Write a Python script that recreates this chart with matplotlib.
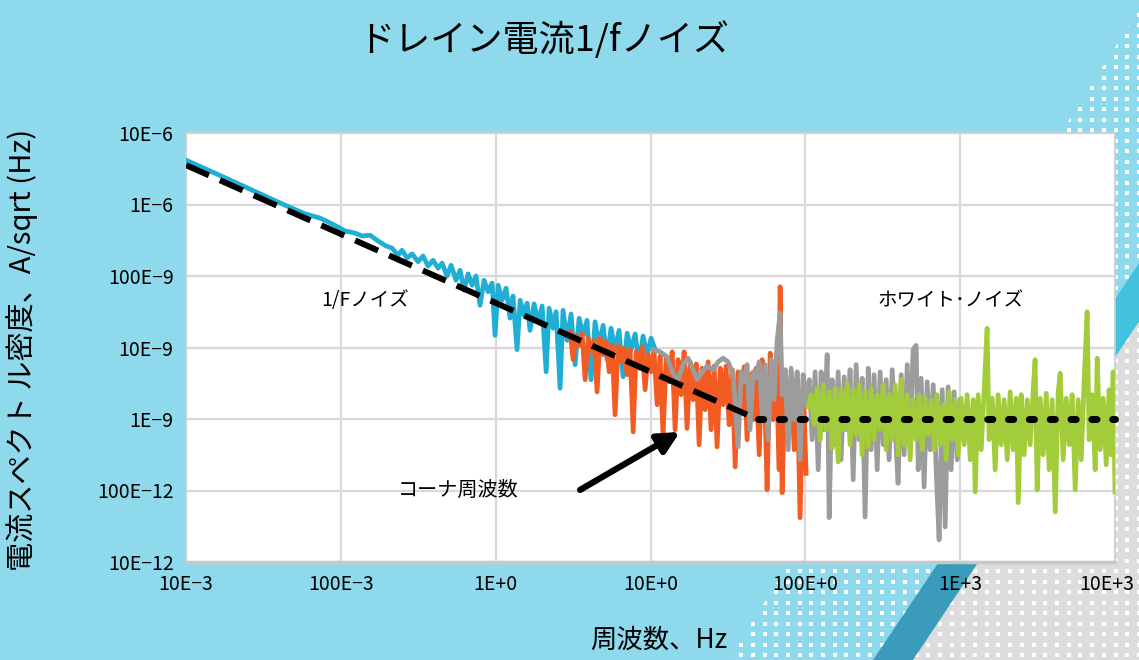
import numpy as np
import matplotlib
matplotlib.use('Agg')
import matplotlib.pyplot as plt
from matplotlib.patches import Polygon
from matplotlib.ticker import NullLocator
from matplotlib.transforms import ScaledTranslation

plt.rcParams['font.family'] = ['Noto Sans CJK JP', 'DejaVu Sans']

# ---- data (log10 of frequency in Hz, log10 of amplitude in nA/sqrt(Hz)) ----
blue_logf = [
    -2.000, -1.845, -1.683, -1.522, -1.360, -1.231, -1.134, -1.057, -0.973, -0.908,
    -0.863, -0.811, -0.760, -0.708, -0.669, -0.631, -0.605, -0.572, -0.540, -0.501,
    -0.469, -0.437, -0.404, -0.372, -0.346, -0.314, -0.288, -0.256, -0.230, -0.204,
    -0.178, -0.152, -0.127, -0.101, -0.075, -0.049, -0.023, -0.004, 0.016, 0.041,
    0.067, 0.093, 0.112, 0.138, 0.158, 0.183, 0.203, 0.222, 0.248, 0.274,
    0.300, 0.326, 0.345, 0.371, 0.390, 0.416, 0.435, 0.461, 0.487, 0.513,
    0.539, 0.565, 0.590, 0.616, 0.642, 0.668, 0.694, 0.720, 0.745, 0.771,
    0.797, 0.823, 0.849, 0.875, 0.901, 0.926, 0.952, 0.978, 1.004, 1.030]
blue_logy = [
    3.62, 3.47, 3.31, 3.15, 2.99, 2.87, 2.81, 2.73, 2.63, 2.60,
    2.56, 2.57, 2.49, 2.42, 2.39, 2.29, 2.36, 2.25, 2.31, 2.20,
    2.28, 2.14, 2.22, 2.11, 2.18, 2.00, 2.15, 1.94, 2.08, 1.80,
    2.03, 1.87, 2.00, 1.59, 1.94, 1.78, 1.90, 1.17, 1.87, 1.66,
    1.83, 1.41, 1.72, 0.97, 1.66, 1.45, 1.62, 1.24, 1.61, 1.36,
    1.58, 0.66, 1.55, 1.27, 1.50, 0.43, 1.52, 1.10, 1.47, 0.76,
    1.41, 1.17, 1.38, 0.55, 1.36, 1.03, 1.31, 0.83, 1.27, 0.97,
    1.24, 0.59, 1.20, 0.97, 1.19, 0.76, 1.16, 0.90, 1.13, 0.97]

orange_logf = [
    0.481, 0.500, 0.519, 0.539, 0.558, 0.578, 0.597, 0.616, 0.636, 0.655,
    0.674, 0.694, 0.713, 0.733, 0.752, 0.771, 0.791, 0.810, 0.829, 0.849,
    0.868, 0.888, 0.907, 0.926, 0.946, 0.965, 0.984, 1.004, 1.023, 1.043,
    1.062, 1.081, 1.101, 1.120, 1.140, 1.159, 1.178, 1.198, 1.217, 1.236,
    1.256, 1.275, 1.295, 1.314, 1.333, 1.353, 1.372, 1.391, 1.411, 1.430,
    1.450, 1.469, 1.488, 1.508, 1.527, 1.547, 1.566, 1.585, 1.605, 1.624,
    1.643, 1.663, 1.682, 1.702, 1.721, 1.740, 1.753, 1.773, 1.792, 1.811,
    1.831, 1.837, 1.850, 1.870, 1.889, 1.908, 1.928, 1.947, 1.966, 1.986,
    2.005]
orange_logy = [
    1.22, 0.83, 1.17, 1.03, 1.20, 0.55, 1.13, 0.94, 1.10, 0.38,
    1.13, 0.90, 1.08, 0.66, 1.03, 0.06, 1.02, 0.80, 0.99, 0.62,
    0.97, -0.18, 0.94, 0.71, 1.01, 0.41, 0.90, 0.66, 0.94, 0.20,
    0.88, -0.25, 0.85, 0.52, 0.94, -0.15, 0.83, 0.34, 0.94, -0.13,
    0.80, 0.27, 0.77, -0.36, 0.71, 0.13, 0.80, -0.15, 0.74, -0.39,
    0.71, 0.20, 0.74, -0.08, 0.69, -0.67, 0.66, 0.10, 0.73, -0.29,
    0.63, -0.01, 0.71, -0.50, 0.83, 0.13, -0.99, 0.92, -0.01, 0.83,
    -0.71, 1.85, -1.03, 0.62, -0.15, 0.59, -0.43, 0.57, -1.38, 0.55,
    -0.76]

gray_logf = [
    1.017, 1.062, 1.107, 1.140, 1.178, 1.211, 1.243, 1.275, 1.301, 1.333,
    1.366, 1.404, 1.437, 1.469, 1.501, 1.534, 1.566, 1.585, 1.605, 1.624,
    1.643, 1.663, 1.682, 1.702, 1.721, 1.740, 1.760, 1.779, 1.798, 1.818,
    1.837, 1.850, 1.870, 1.889, 1.908, 1.928, 1.947, 1.966, 1.986, 2.005,
    2.025, 2.044, 2.063, 2.083, 2.102, 2.121, 2.141, 2.154, 2.173, 2.193,
    2.212, 2.231, 2.251, 2.270, 2.289, 2.309, 2.328, 2.348, 2.367, 2.386,
    2.406, 2.425, 2.444, 2.464, 2.483, 2.503, 2.522, 2.541, 2.561, 2.580,
    2.599, 2.619, 2.638, 2.658, 2.677, 2.696, 2.716, 2.729, 2.748, 2.767,
    2.787, 2.806, 2.826, 2.845, 2.864, 2.884, 2.903, 2.922, 2.942, 2.961,
    2.981, 3.000]
gray_logy = [
    0.97, 0.94, 0.87, 0.66, 0.55, 0.76, 0.85, 0.69, 0.55, 0.66,
    0.74, 0.69, 0.80, 0.85, 0.80, 0.62, -0.39, 0.66, 0.52, 0.76,
    -0.15, 0.66, 0.57, 0.80, 0.06, 0.76, -0.29, 0.83, 0.27, 1.10,
    1.48, 0.34, 0.69, -0.43, 0.71, -0.01, 0.66, -0.57, 0.62, 0.20,
    0.55, -0.29, 0.66, -0.71, 0.66, -0.15, 0.90, -1.38, 0.55, -0.36,
    0.66, -0.57, 0.59, -0.15, 0.69, -0.85, 0.76, -0.29, 0.57, -1.37,
    0.71, -0.43, 0.62, -0.71, 0.66, -0.36, 0.55, -0.57, 0.69, -0.15,
    -0.90, 0.62, -0.50, 0.76, -0.29, 0.97, 1.03, -0.71, 0.57, -0.95,
    0.52, -0.43, 0.48, -0.71, -1.69, 0.41, -1.51, 0.45, -0.71, 0.38,
    -0.57, 0.27]

green_logf = [
    2.018, 2.037, 2.057, 2.076, 2.096, 2.115, 2.134, 2.154, 2.173, 2.193,
    2.212, 2.231, 2.251, 2.270, 2.289, 2.309, 2.328, 2.348, 2.367, 2.386,
    2.406, 2.425, 2.444, 2.464, 2.483, 2.503, 2.522, 2.541, 2.561, 2.580,
    2.599, 2.619, 2.638, 2.658, 2.677, 2.696, 2.716, 2.735, 2.755, 2.774,
    2.793, 2.813, 2.832, 2.851, 2.871, 2.890, 2.910, 2.929, 2.948, 2.968,
    2.987, 3.006, 3.026, 3.045, 3.065, 3.084, 3.097, 3.116, 3.136, 3.155,
    3.174, 3.187, 3.207, 3.226, 3.245, 3.265, 3.284, 3.304, 3.323, 3.342,
    3.362, 3.375, 3.394, 3.413, 3.433, 3.452, 3.472, 3.484, 3.497, 3.517,
    3.536, 3.556, 3.575, 3.594, 3.614, 3.633, 3.646, 3.665, 3.685, 3.704,
    3.723, 3.743, 3.762, 3.782, 3.801, 3.820, 3.833, 3.853, 3.872, 3.885,
    3.904, 3.924, 3.943, 3.962, 3.975, 3.988, 4.000]
green_logy = [
    0.17, 0.34, -0.08, 0.43, -0.29, 0.48, -0.15, 0.38, -0.41, 0.43,
    -0.60, 0.41, -0.15, 0.50, -0.36, 0.41, -0.22, 0.48, -0.50, 0.38,
    -0.39, 0.43, -0.29, 0.34, -0.15, 0.48, -0.43, 0.34, -0.29, 0.48,
    -0.50, 0.55, -0.36, 0.34, -0.57, 0.27, -0.29, 0.34, -0.43, 0.29,
    -0.22, 0.27, -0.43, 0.34, -0.36, 0.20, -0.57, 0.38, -0.29, 0.27,
    -0.50, 0.29, -0.36, 0.34, -0.57, 0.27, -1.02, 0.34, -0.43, 0.41,
    1.27, -0.29, 0.29, -0.71, 0.34, -0.36, 0.27, -0.57, 0.38, -0.43,
    0.29, -1.17, 0.34, -0.50, 0.27, -0.36, 0.41, 0.83, -0.99, 0.29,
    -0.50, 0.36, -0.71, 0.27, -1.30, 0.38, 0.64, -0.57, 0.29, -0.36,
    0.34, -0.99, 0.27, -0.57, 0.55, 1.50, -0.29, 0.34, -0.71, 0.85,
    -0.43, 0.29, -0.64, 0.41, -0.50, 0.66, -1.02]

# guide lines (Hz, A/sqrt(Hz))
onef_f = [0.01, 42.0]
onef_a = [3.55e-6, 1.15e-9]
white_f = [49.5, 1.0e4]
white_a = [1.0e-9, 1.0e-9]

# corner-frequency arrow (tail -> head)
arrow_tail = (3.51, 0.102e-9)
arrow_head = (15.5, 0.66e-9)

x_ticks = [1e-2, 1e-1, 1e0, 1e1, 1e2, 1e3, 1e4]
x_labels = ['10E\u22123', '100E\u22123', '1E+0', '10E+0', '100E+0', '1E+3', '10E+3']
y_ticks = [1e-5, 1e-6, 1e-7, 1e-8, 1e-9, 1e-10, 1e-11]
y_labels = ['10E\u22126', '1E\u22126', '100E\u22129', '10E\u22129', '1E\u22129',
            '100E\u221212', '10E\u221212']


def to_hz(v):
    return 10 ** np.array(v)


def to_amp(v):
    return 10 ** np.array(v) * 1e-9


W, H = 1139, 660
fig = plt.figure(figsize=(W / 100, H / 100), dpi=100)
fig.patch.set_facecolor('#8fd9ec')

# ---- decorative slide background ----
bg = fig.add_axes([0, 0, 1, 1], zorder=0)
bg.set_xlim(0, W)
bg.set_ylim(H, 0)
bg.axis('off')

band = Polygon([(1145, 0), (728, 660), (873, 660), (1315, 0)], closed=True,
               facecolor='none', edgecolor='none')
bg.add_patch(band)
grey_area = Polygon([(1354, 0), (913, 660), (1300, 660), (1300, 0)], closed=True,
                    facecolor='#dcdcdc', edgecolor='none')
bg.add_patch(grey_area)
bg.add_patch(Polygon([(1315, 0), (1014, 450), (1053, 450), (1354, 0)], closed=True,
                     facecolor='#44c1dd', edgecolor='none'))
bg.add_patch(Polygon([(1014, 450), (873, 660), (913, 660), (1053, 450)], closed=True,
                     facecolor='#3a9bba', edgecolor='none'))

gx, gy = np.meshgrid(np.arange(4, W, 11.7), np.arange(4, H, 10.5))
for patch in (band, grey_area):
    sc = bg.scatter(gx.ravel(), gy.ravel(), s=9, marker='s', color='white',
                    linewidths=0)
    sc.set_clip_path(patch)

# ---- chart ----
ax = fig.add_axes([186 / W, 1 - 562 / H, 929 / W, 429 / H], zorder=2)
ax.set_facecolor('white')
ax.set_xscale('log')
ax.set_yscale('log')

lw = 3.4
ax.plot(to_hz(blue_logf), to_amp(blue_logy), color='#20aed5', lw=lw,
        solid_joinstyle='round', zorder=3)
ax.plot(to_hz(orange_logf), to_amp(orange_logy), color='#f25c22', lw=lw,
        solid_joinstyle='round', zorder=4)
ax.plot(to_hz(gray_logf), to_amp(gray_logy), color='#9c9c9c', lw=lw,
        solid_joinstyle='round', zorder=5)
ax.plot(to_hz(green_logf), to_amp(green_logy), color='#a2cc3a', lw=lw,
        solid_joinstyle='round', zorder=6)

ax.plot(onef_f, onef_a, color='black', lw=4.3, dashes=(4.2, 2.0),
        dash_capstyle='butt', zorder=8)
ax.plot(white_f, white_a, color='black', lw=5, dashes=(0.75, 2.25),
        dash_capstyle='round', zorder=8, clip_on=False)

ax.annotate('', xy=arrow_head, xytext=arrow_tail,
            arrowprops=dict(arrowstyle='-|>', color='black', lw=4.5,
                            mutation_scale=32, shrinkA=0, shrinkB=0),
            zorder=9)

ax.text(0.143, 45.7e-9, '1/Fノイズ', fontsize=14, ha='center', va='center', zorder=9)
ax.text(861, 45.7e-9, 'ホワイト\uff65ノイズ', fontsize=14, ha='center', va='center',
        zorder=9)
ax.text(0.572, 0.102e-9, 'コーナ周波数', fontsize=14.5, ha='center', va='center',
        zorder=9)

ax.set_xlim(1e-2, 1e4)
ax.set_ylim(1e-11, 1e-5)
ax.set_xticks(x_ticks)
ax.set_xticklabels(x_labels)
ax.set_yticks(y_ticks)
ax.set_yticklabels(y_labels)
ax.xaxis.set_minor_locator(NullLocator())
ax.yaxis.set_minor_locator(NullLocator())
ax.grid(True, which='major', color='#d9d9d9', lw=1.6)
ax.set_axisbelow(True)
ax.tick_params(length=0, labelsize=14, pad=9)
# keep the last x label inside the slide
last = ax.get_xticklabels()[-1]
last.set_transform(last.get_transform() + ScaledTranslation(-8 / 100, 0, fig.dpi_scale_trans))
for name, sp in ax.spines.items():
    sp.set_color('#d0d0d0')
    sp.set_linewidth(1.2)
ax.spines['bottom'].set_linewidth(2.5)
ax.spines['bottom'].set_color('#c8c8c8')

fig.text(544 / W, 1 - 40 / H, 'ドレイン電流1/fノイズ', fontsize=26,
         ha='center', va='center')
fig.text(22 / W, 1 - 350 / H, '電流スペクト ル密度、A/sqrt (Hz)', fontsize=21,
         rotation=90, ha='center', va='center')
fig.text(659 / W, 1 - 640 / H, '周波数、Hz', fontsize=19, ha='center', va='center')

fig.savefig('out.png', dpi=100, facecolor=fig.get_facecolor())
